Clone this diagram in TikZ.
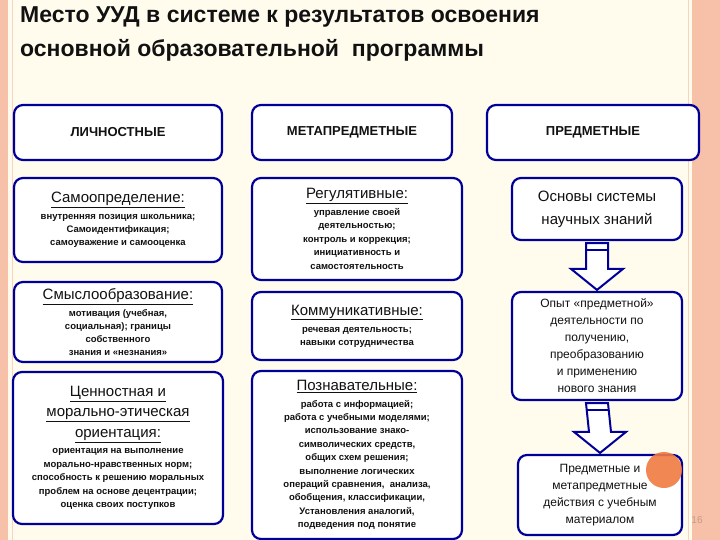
\documentclass[tikz,border=0pt]{standalone}
\usepackage{fontspec}
\setmainfont{Liberation Sans}
\usetikzlibrary{calc}
\definecolor{bg}{HTML}{FFFCEE}
\definecolor{stripe}{HTML}{F7C0A8}
\definecolor{bblue}{HTML}{000099}
\definecolor{txt}{HTML}{111111}
\definecolor{dot}{HTML}{F07A40}
\tikzset{
 box/.style={draw=bblue,line width=2.2pt,rounded corners=9pt,fill=white,text=txt,align=center,inner sep=2pt},
 blk/.style={draw=bblue,line width=2pt,fill=white},
}
\newcommand{\ul}[1]{\underline{#1}}
\newcommand{\hd}[1]{{\mdseries\fontsize{15}{17}\selectfont\ul{#1}}}
\begin{document}
\begin{tikzpicture}[x=1pt,y=-1pt]
\useasboundingbox (0,0) rectangle (720,540);
\fill[bg] (0,0) rectangle (720,540);
\fill[stripe] (0,0) rectangle (8,540);
\fill[stripe] (692,0) rectangle (720,540);
\draw[stripe!70!white,line width=1pt] (12,0)--(12,540) (688,0)--(688,540);
\node[anchor=north west,align=left,font=\bfseries\fontsize{23}{34}\selectfont,text=txt,inner sep=0pt] (title) at (20,6) {Место УУД в системе к результатов освоения\\основной образовательной\ \ программы};
% headers
\node[box,minimum width=208,minimum height=55,font=\bfseries\fontsize{13}{15}\selectfont] (h1) at (118,132.5) {ЛИЧНОСТНЫЕ};
\node[box,minimum width=200,minimum height=55,font=\bfseries\fontsize{13}{15}\selectfont] (h2) at (352,132.5) {МЕТАПРЕДМЕТНЫЕ};
\node[box,minimum width=212,minimum height=55,font=\bfseries\fontsize{13}{15}\selectfont] (h3) at (593,132.5) {ПРЕДМЕТНЫЕ};
% left column
\node[box,minimum width=208,minimum height=84,font=\bfseries\fontsize{9.5}{13}\selectfont] (l1) at (118,220) {\hd{Самоопределение:}\\[4pt]внутренняя позиция школьника;\\Самоидентификация;\\самоуважение и самооценка};
\node[box,minimum width=208,minimum height=80,font=\bfseries\fontsize{9.5}{13}\selectfont] (l2) at (118,322) {\hd{Смыслообразование:}\\[4pt]мотивация (учебная,\\социальная); границы\\собственного\\знания и «незнания»};
\node[box,minimum width=210,minimum height=152,font=\bfseries\fontsize{9.5}{13.5}\selectfont] (l3) at (118,448) {\hd{Ценностная и}\\[7pt]\hd{морально-этическая}\\[7pt]\hd{ориентация:}\\[3pt]ориентация на выполнение\\морально-нравственных норм;\\способность к решению моральных\\проблем на основе децентрации;\\оценка своих поступков};
% middle column
\node[box,minimum width=210,minimum height=102,font=\bfseries\fontsize{9.5}{13.5}\selectfont] (m1) at (357,229) {\hd{Регулятивные:}\\[3pt]управление своей\\деятельностью;\\контроль и коррекция;\\инициативность и\\самостоятельность};
\node[box,minimum width=210,minimum height=68,font=\bfseries\fontsize{9.5}{13}\selectfont] (m2) at (357,326) {\hd{Коммуникативные:}\\[4pt]речевая деятельность;\\навыки сотрудничества};
\node[box,minimum width=210,minimum height=168,font=\bfseries\fontsize{9.5}{13.4}\selectfont] (m3) at (357,455) {\hd{Познавательные:}\\[3pt]работа с информацией;\\работа с учебными моделями;\\использование знако-\\символических средств,\\общих схем решения;\\выполнение логических\\операций сравнения,\ \ анализа,\\обобщения, классификации,\\Установления аналогий,\\подведения под понятие};
% right column
\node[box,minimum width=170,minimum height=62,font=\fontsize{15}{23}\selectfont] (r1) at (597,209) {Основы системы\\научных знаний};
\node[box,minimum width=170,minimum height=108,font=\fontsize{12}{17}\selectfont] (r2) at (597,346) {Опыт «предметной»\\деятельности по\\получению,\\преобразованию\\и применению\\нового знания};
\node[box,minimum width=164,minimum height=80,font=\fontsize{12}{17}\selectfont] (r3) at (600,495) {Предметные и\\метапредметные\\действия с учебным\\материалом};
% arrows
\foreach \a/\b in {r1/r2,r2/r3}{
 \draw[blk] ($(\a.south)+(-11,2)$) -- ($(\a.south)+(11,2)$) -- ($(\b.north)+(11,-22)$) -- ($(\b.north)+(26,-22)$) -- ($(\b.north)+(0,-1)$) -- ($(\b.north)+(-26,-22)$) -- ($(\b.north)+(-11,-22)$) -- cycle;
 \draw[bblue,line width=1.5pt] ($(\a.south)+(-11,9)$) -- ($(\a.south)+(11,9)$);
}
\fill[dot,opacity=0.9] (664,470) circle (18);
\node[text=stripe!80!black,font=\fontsize{10}{12}\selectfont] (pg) at (697,520) {16};
\end{tikzpicture}
\end{document}
